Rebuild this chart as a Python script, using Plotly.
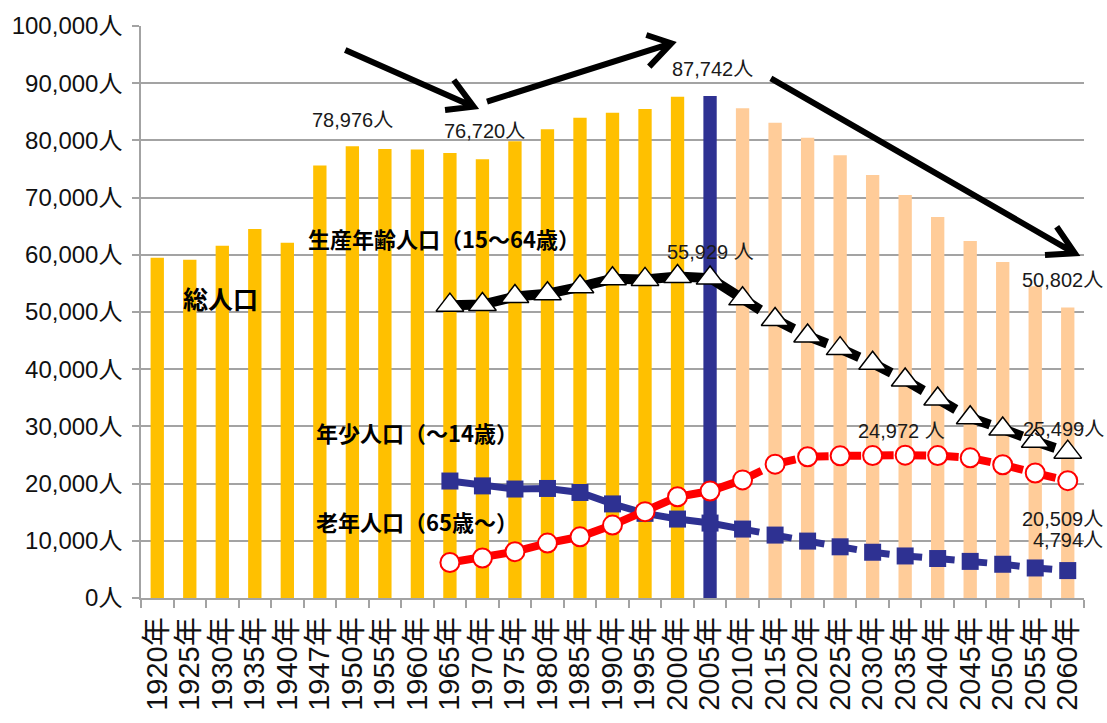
import plotly.graph_objects as go

# ---- data -------------------------------------------------------------
years = ["1920", "1925", "1930", "1935", "1940", "1947", "1950", "1955", "1960",
         "1965", "1970", "1975", "1980", "1985", "1990", "1995", "2000", "2005",
         "2010", "2015", "2020", "2025", "2030", "2035", "2040", "2045", "2050",
         "2055", "2060"]
categories = [y + "年" for y in years]

# 総人口 (total population)
total = [59500, 59150, 61600, 64500, 62100, 75600, 78976, 78500, 78400,
         77800, 76720, 79850, 81950, 83950, 84850, 85500, 87650, 87742,
         85600, 83100, 80450, 77400, 73950, 70450, 66600, 62400, 58750,
         54500, 50802]

# age-group series start in 1965
age_years = categories[9:]
working = [51200, 51300, 52700, 53200, 54400, 55800, 55700, 56200, 55929,
           52300, 48700, 45800, 43600, 41050, 38100, 34800, 31500, 29550,
           27400, 25499]                       # 生産年齢人口 (15-64)
young = [20450, 19600, 19050, 19150, 18450, 16450, 14800, 13800, 13100,
         12050, 11000, 9950, 8950, 8000, 7350, 6900, 6400, 5900, 5250, 4794]   # ~14
elderly = [6200, 7000, 8100, 9600, 10700, 12750, 15100, 17700, 18700,
           20650, 23400, 24700, 24850, 24900, 24972, 24900, 24500, 23300,
           21850, 20509]                       # 65~

base_year = "2005年"
last_actual = "2010年"

y_ticks = list(range(0, 100001, 10000))
y_ticktext = [f"{v:,}人" for v in y_ticks]

# ---- styling ----------------------------------------------------------
GOLD = "#FFC000"
PEACH = "#FFCC99"
NAVY = "#2E3192"
RED = "#FF0000"
GRID = "#a3a3a3"
NUM_FONT = "Liberation Sans, Arial, Noto Sans CJK JP, sans-serif"
JP_FONT = "Noto Sans CJK JP, sans-serif"

base_idx = categories.index(base_year)
bar_colors = [GOLD if i < base_idx else NAVY if i == base_idx else PEACH
              for i in range(len(categories))]

fig = go.Figure()

fig.add_trace(go.Bar(x=categories, y=total, marker=dict(color=bar_colors, line_width=0),
                     hoverinfo="x+y"))

split = age_years.index(last_actual)


def add_series(values, color, width, dash_len, marker):
    # actual values: solid line
    fig.add_trace(go.Scatter(x=age_years[:split + 1], y=values[:split + 1], mode="lines",
                             line=dict(color=color, width=width), hoverinfo="skip"))
    # projections: each interval gets its own short dash leaving the marker
    for i in range(split, len(age_years) - 1):
        fig.add_trace(go.Scatter(x=age_years[i:i + 2], y=values[i:i + 2], mode="lines",
                                 line=dict(color=color, width=width,
                                           dash=f"{dash_len}px,400px"),
                                 hoverinfo="skip"))
    fig.add_trace(go.Scatter(x=age_years, y=values, mode="markers", marker=marker))


add_series(young, NAVY, 7, 17,
           dict(symbol="square", size=17, color=NAVY, line=dict(color=NAVY, width=0)))
add_series(elderly, RED, 8, 21,
           dict(symbol="circle", size=19, color="white", line=dict(color=RED, width=2)))
add_series(working, "black", 10, 21,
           dict(symbol="triangle-up", size=24, color="white", line=dict(color="black", width=1.5)))

# ---- value labels -----------------------------------------------------
value_labels = [
    ("1950年", total, "78,976人", 0, 26),
    ("1970年", total, "76,720人", 2, 28),
    ("2005年", total, "87,742人", 2, 27),
    ("2060年", total, "50,802人", -5, 27),
]
for cat, series, text, dx, dy in value_labels:
    fig.add_annotation(x=cat, y=series[categories.index(cat)], text=text, showarrow=False,
                       xshift=dx, yshift=dy, font=dict(family=NUM_FONT, size=20, color="#1a1a1a"))

age_labels = [
    ("2005年", working, "55,929 人", 0, 26),
    ("2060年", working, "25,499人", -4, 23),
    ("2035年", elderly, "24,972 人", -4, 24),
    ("2060年", elderly, "20,509人", -5, -38),
    ("2060年", young, "4,794人", 0, 31),
]
for cat, series, text, dx, dy in age_labels:
    fig.add_annotation(x=cat, y=series[age_years.index(cat)], text=text, showarrow=False,
                       xshift=dx, yshift=dy, font=dict(family=NUM_FONT, size=20, color="#1a1a1a"))

# series names
series_names = [
    ("総人口", 0.73, 52450, 25),
    ("生産年齢人口（15～64歳）", 4.58, 62940, 22),
    ("年少人口（～14歳）", 4.83, 29020, 22),
    ("老年人口（65歳～）", 4.83, 13460, 22),
]
for text, xi, yv, size in series_names:
    fig.add_annotation(x=xi, y=yv, text=text, showarrow=False, xanchor="left",
                       yanchor="middle",
                       font=dict(family=JP_FONT, size=size, color="black", weight="bold"))

# ---- trend arrows (category index, value) -------------------------------
arrows = [
    [(5.78, 95800), (9.73, 85890), (9.12, 90560), (8.85, 85310)],
    [(10.14, 86770), (15.81, 96980), (15.04, 98430), (15.13, 92890)],
    [(18.87, 90860), (28.22, 60260), (27.66, 64910), (27.30, 59970)],
]
for start, tip, arm_a, arm_b in arrows:
    path = (f"M {start[0]},{start[1]} L {tip[0]},{tip[1]} "
            f"M {arm_a[0]},{arm_a[1]} L {tip[0]},{tip[1]} L {arm_b[0]},{arm_b[1]}")
    fig.add_shape(type="path", path=path, xref="x", yref="y",
                  line=dict(color="black", width=6))

# ---- layout -----------------------------------------------------------
fig.update_layout(
    width=1107, height=723,
    margin=dict(l=138, r=23, t=26, b=125),
    plot_bgcolor="white", paper_bgcolor="white",
    showlegend=False, bargap=0.59,
    xaxis=dict(type="category", range=[-0.5, len(categories) - 0.5],
               tickmode="array", tickvals=categories, ticktext=categories,
               tickson="boundaries", ticks="outside", ticklen=8,
               tickcolor=GRID, tickwidth=1.5, showline=True, linecolor=GRID, linewidth=1.5,
               showgrid=False, tickangle=-90, ticklabelstandoff=6,
               tickfont=dict(family=NUM_FONT, size=29, color="#111")),
    yaxis=dict(range=[0, 100000], tickvals=y_ticks, ticktext=y_ticktext,
               showgrid=True, gridcolor=GRID, gridwidth=1.5, zeroline=False,
               showline=True, linecolor=GRID, linewidth=1.5,
               ticks="outside", ticklen=7, tickcolor=GRID, tickwidth=1.5,
               ticklabelstandoff=5,
               tickfont=dict(family=NUM_FONT, size=24, color="#111")),
)

fig.write_html("out.html")
